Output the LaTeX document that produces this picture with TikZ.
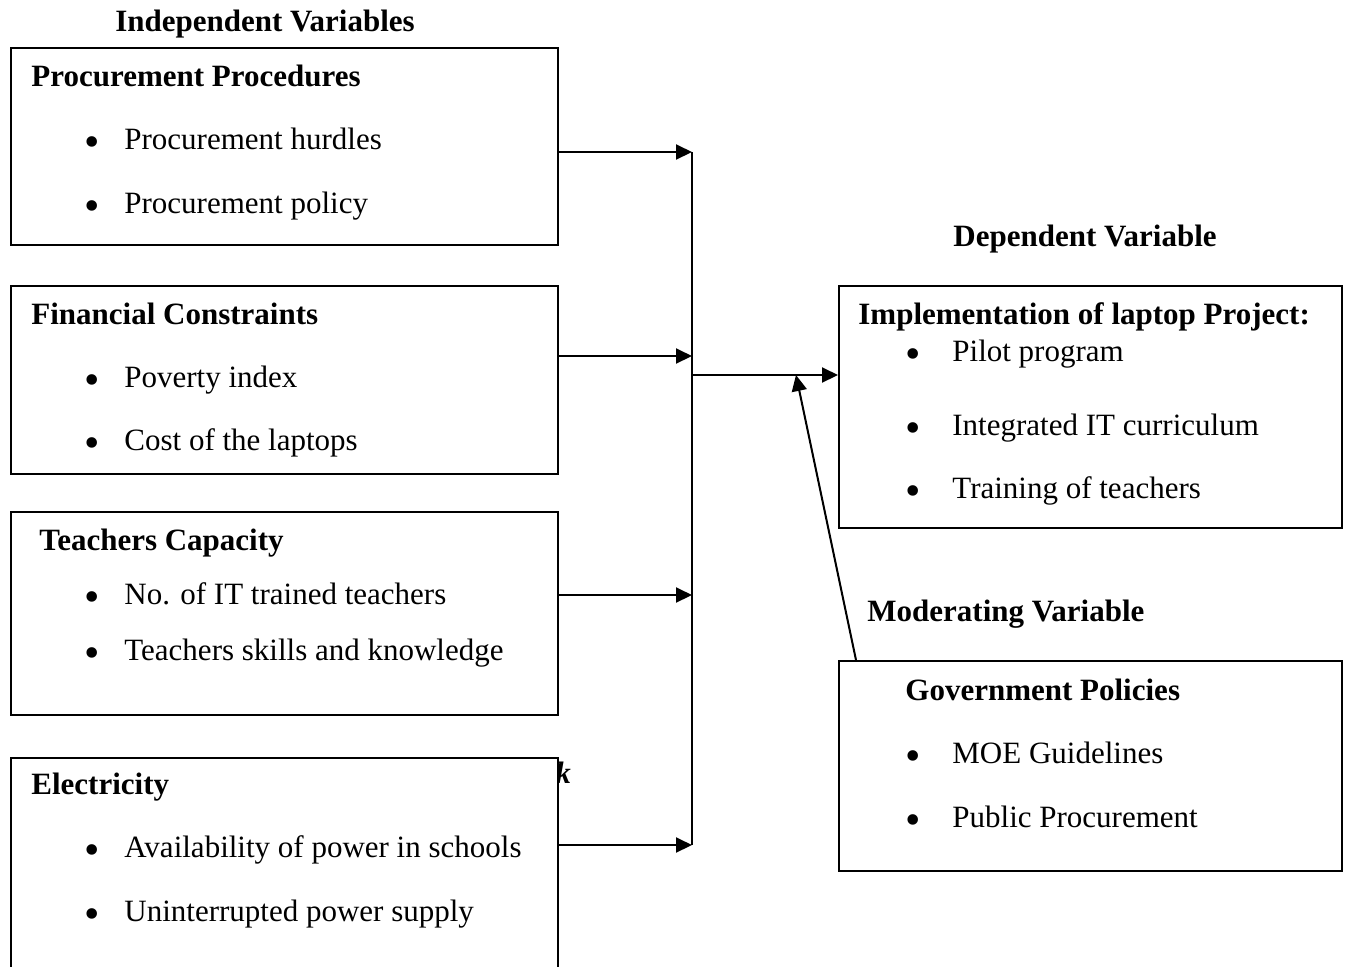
\documentclass[tikz,border=0pt]{standalone}
\usepackage{fontspec}
\setmainfont{Liberation Serif}
\usetikzlibrary{arrows.meta}
\begin{document}
\begin{tikzpicture}[x=0.5pt,y=-0.5pt,
  box/.style={draw, line width=1pt, anchor=north west, inner sep=0, minimum width=#1},
  hd/.style={font=\fontsize{15.5}{18}\selectfont\bfseries, inner sep=0, anchor=base west},
  itm/.style={font=\fontsize{15.5}{18}\selectfont, inner sep=0, anchor=base west},
  bul/.style={font=\fontsize{22}{24}\selectfont, inner sep=0, anchor=center, yshift=1pt},
  arr/.style={line width=1pt, -{Triangle[length=8pt,width=7.5pt]}},
  ln/.style={line width=1pt}]
\useasboundingbox (0,0) rectangle (1350,966);
\clip (0,0) rectangle (1350,966);

% headings
\node[hd, anchor=base] (hind) at (265,31) {Independent Variables};
\node[hd, anchor=base] (hdep) at (1085,246) {Dependent Variable};
\node[hd] (hmod) at (867,621) {Moderating Variable};
\node[font=\fontsize{15.5}{18}\selectfont\bfseries\itshape, inner sep=0, anchor=base] (kk) at (563,783) {k};

% boxes
\node[box=273.5pt, minimum height=98.5pt] (b1) at (10,47) {};
\node[box=273.5pt, minimum height=94pt] (b2) at (10,285) {};
\node[box=273.5pt, minimum height=101.5pt] (b3) at (10,511) {};
\node[box=273.5pt, minimum height=110pt, fill=white] (b4) at (10,757) {};
\node[box=251.5pt, minimum height=121pt] (dep) at (838,285) {};
\node[box=251.5pt, minimum height=105pt] (mod) at (838,660) {};

% box 1
\node[hd] (t1) at (31,86) {Procurement Procedures};
\node[bul] (b1a) at (92,149) {•};
\node[itm] (i1a) at (124,149) {Procurement hurdles};
\node[bul] (b1b) at (92,213) {•};
\node[itm] (i1b) at (124,213) {Procurement policy};

% box 2
\node[hd] (t2) at (31,324) {Financial Constraints};
\node[bul] (b2a) at (92,387) {•};
\node[itm] (i2a) at (124,387) {Poverty index};
\node[bul] (b2b) at (92,450) {•};
\node[itm] (i2b) at (124,450) {Cost of the laptops};

% box 3
\node[hd] (t3) at (39,550) {Teachers Capacity};
\node[bul] (b3a) at (92,604) {•};
\node[itm] (i3a) at (124,604) {No. of IT trained teachers};
\node[bul] (b3b) at (92,660) {•};
\node[itm] (i3b) at (124,660) {Teachers skills and knowledge};

% box 4
\node[hd] (t4) at (31,794) {Electricity};
\node[bul] (b4a) at (92,857) {•};
\node[itm] (i4a) at (124,857) {Availability of power in schools};
\node[bul] (b4b) at (92,921) {•};
\node[itm] (i4b) at (124,921) {Uninterrupted power supply};

% dependent
\node[hd] (td) at (858,324) {Implementation of laptop Project:};
\node[bul] (bda) at (913,361) {•};
\node[itm] (ida) at (952,361) {Pilot program};
\node[bul] (bdb) at (913,435) {•};
\node[itm] (idb) at (952,435) {Integrated IT curriculum};
\node[bul] (bdc) at (913,498) {•};
\node[itm] (idc) at (952,498) {Training of teachers};

% moderating
\node[hd] (tm) at (905,700) {Government Policies};
\node[bul] (bma) at (913,763) {•};
\node[itm] (ima) at (952,763) {MOE Guidelines};
\node[bul] (bmb) at (913,827) {•};
\node[itm] (imb) at (952,827) {Public Procurement};

% connectors
\coordinate (j1) at (692,152);
\coordinate (j2) at (692,356);
\coordinate (j3) at (692,595);
\coordinate (j4) at (692,845);
\coordinate (jm) at (692,375);
\coordinate (tip) at (796,375);
\coordinate (mb) at (856,660);
\draw[arr] (b1.east |- j1) -- (j1);
\draw[arr] (b2.east |- j2) -- (j2);
\draw[arr] (b3.east |- j3) -- (j3);
\draw[arr] (b4.east |- j4) -- (j4);
\draw[ln] (j1) -- (j4);
\draw[arr] (jm) -- (dep.west |- jm);
\draw[arr] (mod.north -| mb) -- (tip);
\end{tikzpicture}
\end{document}
